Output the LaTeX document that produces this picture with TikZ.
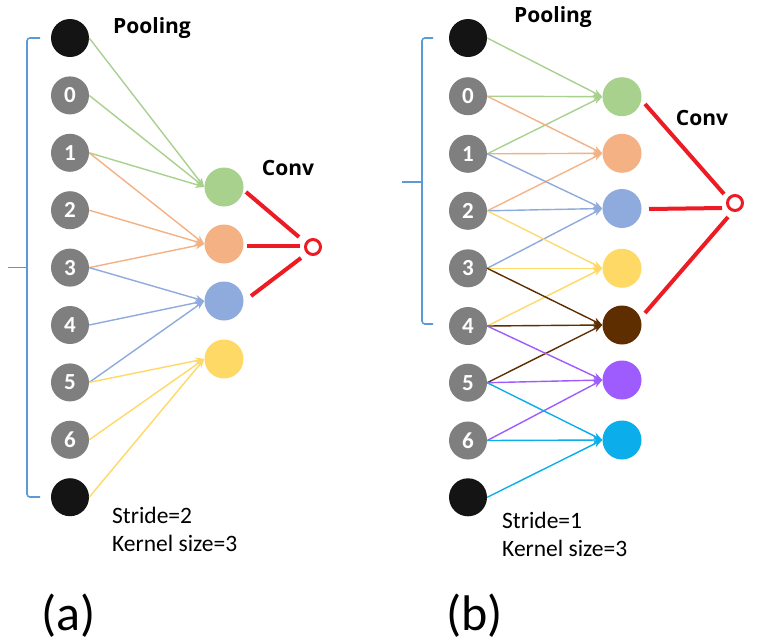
\documentclass[tikz,border=0pt]{standalone}
\usepackage{fontspec}
\setmainfont{Carlito}
\newfontfamily\headfont{Open Sans}
\usetikzlibrary{arrows.meta}
\definecolor{cg}{HTML}{A9D18E}
\definecolor{co}{HTML}{F4B183}
\definecolor{cb}{HTML}{8FAADC}
\definecolor{cy}{HTML}{FFD966}
\definecolor{cbr}{HTML}{5E2E00}
\definecolor{cp}{HTML}{9E5CFF}
\definecolor{cc}{HTML}{0BADEB}
\definecolor{cgray}{HTML}{7F7F7F}
\definecolor{cblk}{HTML}{141414}
\definecolor{cred}{HTML}{ED1C24}
\definecolor{cbrace}{HTML}{5B9BD5}
\begin{document}
\begin{tikzpicture}[x=1pt,y=-1pt,
  inp/.style={circle,minimum size=38pt,inner sep=0pt,fill=cgray,text=white,font=\fontsize{23}{23}\selectfont\bfseries},
  blk/.style={circle,minimum size=38pt,inner sep=0pt,fill=cblk},
  outn/.style={circle,minimum size=39pt,inner sep=0pt},
  conn/.style={line width=1.4pt,-{Stealth[length=9pt,width=7pt]}},
  redl/.style={draw=cred,line width=4pt},
  redc/.style={circle,draw=cred,line width=3pt,minimum size=15pt,inner sep=0pt},
  bracel/.style={draw=cbrace,line width=1.6pt,rounded corners=3pt},
  head/.style={font=\headfont\bfseries\fontsize{21}{21}\selectfont},
  info/.style={font=\fontsize{23.5}{26}\selectfont,anchor=base west,inner sep=0pt},
  panel/.style={font=\fontsize{50}{50}\selectfont,anchor=base west,inner sep=0pt}]
\useasboundingbox (0,0) rectangle (760,643);
\fill[white] (0,0) rectangle (760,643);

% ---------- panel (a) ----------
\node[blk] (a0) at (70,38) {};
\node[inp] (a1) at (70,95.4) {0};
\node[inp] (a2) at (70,152.8) {1};
\node[inp] (a3) at (70,210.2) {2};
\node[inp] (a4) at (70,267.6) {3};
\node[inp] (a5) at (70,325) {4};
\node[inp] (a6) at (70,382.4) {5};
\node[inp] (a7) at (70,439.8) {6};
\node[blk] (a8) at (70,497.2) {};

\node[outn,fill=cg] (ao1) at (224,187) {};
\node[outn,fill=co] (ao2) at (224,244) {};
\node[outn,fill=cb] (ao3) at (224,301) {};
\node[outn,fill=cy] (ao4) at (224,359) {};

\foreach \s in {0,1,2} \draw[conn,color=cg] (a\s.east) -- (ao1.west);
\foreach \s in {2,3,4} \draw[conn,color=co] (a\s.east) -- (ao2.west);
\foreach \s in {4,5,6} \draw[conn,color=cb] (a\s.east) -- (ao3.west);
\foreach \s in {6,7,8} \draw[conn,color=cy] (a\s.east) -- (ao4.west);

\node[redc] (ac) at (313,247) {};
\coordinate (ar1) at (246,192);
\coordinate (ar2) at (247,246);
\coordinate (ar3) at (251,296);
\coordinate (ae1) at (299,237);
\coordinate (ae2) at (300,246);
\coordinate (ae3) at (301,258);
\draw[redl] (ar1) -- (ae1);
\draw[redl] (ar2) -- (ae2);
\draw[redl] (ar3) -- (ae3);

\draw[bracel] (40,38) -- (27,38) -- (27,497) -- (40,497);
\draw[draw=cbrace,line width=1.6pt] (8,267.3) -- (27,267.3);

\node[head] (apool) at (152,28) {Pooling};
\node[head] (aconv) at (288,168) {Conv};
\node[info] (as) at (112,523) {Stride=2};
\node[info] (ak) at (112,551) {Kernel size=3};
\node[panel] (al) at (41,630) {(a)};

% ---------- panel (b) ----------
\node[blk] (b0) at (468,38) {};
\node[inp] (b1) at (468,96.2) {0};
\node[inp] (b2) at (468,153.8) {1};
\node[inp] (b3) at (468,210.8) {2};
\node[inp] (b4) at (468,268.3) {3};
\node[inp] (b5) at (468,326) {4};
\node[inp] (b6) at (468,382.7) {5};
\node[inp] (b7) at (468,440.5) {6};
\node[blk] (b8) at (468,497.3) {};

\node[outn,fill=cg] (bo1) at (622,96.7) {};
\node[outn,fill=co] (bo2) at (622,153.3) {};
\node[outn,fill=cb] (bo3) at (622,208.5) {};
\node[outn,fill=cy] (bo4) at (622,268.3) {};
\node[outn,fill=cbr] (bo5) at (622,325) {};
\node[outn,fill=cp] (bo6) at (622,380) {};
\node[outn,fill=cc] (bo7) at (622,440) {};

\foreach \k/\c in {1/cg,2/co,3/cb,4/cy,5/cbr,6/cp,7/cc} {
  \foreach \d in {-1,0,1} {
    \pgfmathtruncatemacro\s{\k+\d}
    \draw[conn,color=\c] (b\s.east) -- (bo\k.west);
  }
}

\node[redc] (bc) at (735,203) {};
\coordinate (br1) at (645,104);
\coordinate (br2) at (649,209);
\coordinate (br3) at (645,313);
\coordinate (be1) at (724,194);
\coordinate (be2) at (722,208);
\coordinate (be3) at (728,217);
\draw[redl] (br1) -- (be1);
\draw[redl] (br2) -- (be2);
\draw[redl] (br3) -- (be3);

\draw[bracel] (433,38) -- (422,38) -- (422,324) -- (433,324);
\draw[draw=cbrace,line width=1.6pt] (402,182) -- (422,182);

\node[head] (bpool) at (553,17) {Pooling};
\node[head] (bconv) at (702,118) {Conv};
\node[info] (bs) at (502,528) {Stride=1};
\node[info] (bk) at (502,556.5) {Kernel size=3};
\node[panel] (bl) at (446,630) {(b)};
\end{tikzpicture}
\end{document}
